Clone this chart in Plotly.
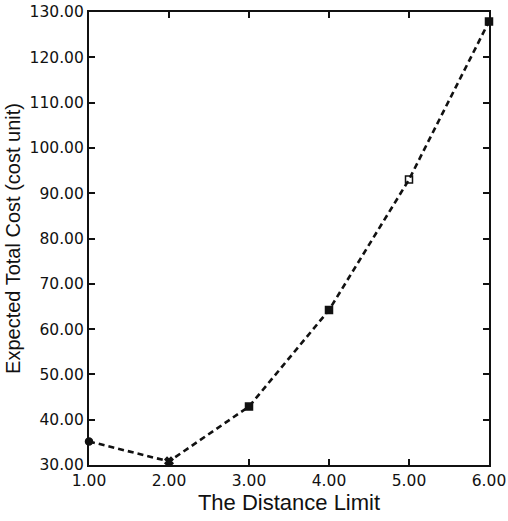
import plotly.graph_objects as go

distance_limit = [1, 2, 3, 4, 5, 6]
expected_cost = [35.2, 30.8, 42.9, 64.2, 93.0, 127.9]
marker_symbols = ["circle", "x", "square", "square", "square-open", "square"]
x_ticks = [1, 2, 3, 4, 5, 6]
y_ticks = [30, 40, 50, 60, 70, 80, 90, 100, 110, 120, 130]

fig = go.Figure()
fig.add_trace(go.Scatter(
    x=distance_limit, y=expected_cost, mode="lines+markers",
    line=dict(color="#111", width=2.6, dash="6px,4px"),
    marker=dict(symbol=marker_symbols, size=7, color="#111",
                line=dict(color="#111", width=1.5)),
    cliponaxis=False, showlegend=False,
))

axis_common = dict(
    showgrid=False, zeroline=False, showline=True, linecolor="#111", linewidth=2.2,
    mirror="allticks", ticks="inside", ticklen=6, tickwidth=1.5, tickcolor="#111",
    tickfont=dict(family="DejaVu Sans", size=15.5, color="#111"),
    tickformat=".2f", automargin=False,
)
fig.update_xaxes(**axis_common, range=[1, 6], tickvals=x_ticks,
                 title=dict(text="The Distance Limit", standoff=6,
                            font=dict(family="Liberation Sans, Arial", size=22, color="#111")))
fig.update_yaxes(**axis_common, range=[30, 130], tickvals=y_ticks,
                 title=dict(text="Expected Total Cost (cost unit)", standoff=4,
                            font=dict(family="Liberation Sans, Arial", size=20, color="#111")))
fig.update_layout(
    width=508, height=521, paper_bgcolor="white", plot_bgcolor="white",
    margin=dict(l=89, r=19, t=12, b=56),
)
fig.write_html("out.html")
